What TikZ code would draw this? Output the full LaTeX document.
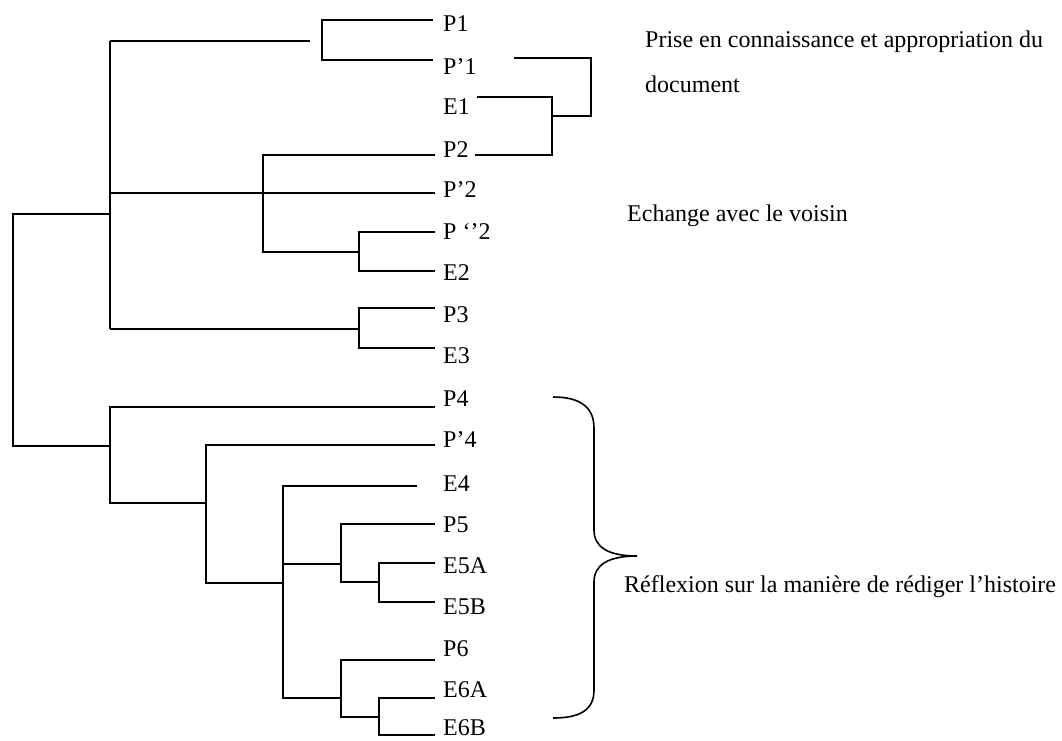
\documentclass[tikz,border=0pt]{standalone}
\usepackage{fontspec}
\setmainfont{Liberation Serif}
\begin{document}
\begin{tikzpicture}[x=1pt,y=-1pt]
\tikzset{
  branch/.style={draw=black, line width=1.6pt, line join=miter},
  leaf/.style={anchor=base west, inner sep=0pt, font=\fontsize{24}{29}\selectfont},
  note/.style={anchor=base west, inner sep=0pt, font=\fontsize{24}{29}\selectfont},
  bracepath/.style={draw=black, line width=1.6pt}
}
\useasboundingbox (0,0) rectangle (1062,740);

% leaf line ends
\coordinate (lP1) at (433,20);
\coordinate (lPp1) at (433,60);
\coordinate (lP2) at (435,155);
\coordinate (lPp2) at (435,193);
\coordinate (lPpp2) at (435,232);
\coordinate (lE2) at (435,271);
\coordinate (lP3) at (435,308);
\coordinate (lE3) at (435,348);
\coordinate (lP4) at (435,407);
\coordinate (lPp4) at (435,445);
\coordinate (lE4) at (417,486);
\coordinate (lP5) at (435,524);
\coordinate (lE5A) at (435,563);
\coordinate (lE5B) at (435,602);
\coordinate (lP6) at (435,660);
\coordinate (lE6A) at (435,698);
\coordinate (lE6B) at (435,735);

% internal junction coordinates
\coordinate (jA) at (322,40);    % P1 / P'1
\coordinate (jAl) at (110,41);
\coordinate (jAr) at (310,41);
\coordinate (jB) at (263,193);   % P2, P'2, (P''2,E2)
\coordinate (jC) at (359,252);   % P''2 / E2
\coordinate (jD) at (359,329);   % P3 / E3
\coordinate (jT) at (110,214);   % upper group
\coordinate (root) at (13,330);
\coordinate (jL) at (110,446);   % lower group
\coordinate (jM) at (206,503);   % P'4 ...
\coordinate (jN) at (283,583);   % E4 ...
\coordinate (jO) at (341,564);   % P5 ...
\coordinate (jP) at (379,582);   % E5A / E5B
\coordinate (jQ) at (341,698);   % P6 ...
\coordinate (jR) at (379,717);   % E6A / E6B

% leaf labels
\node[leaf] (P1) at (443,31) {P1};
\node[leaf] (Pp1) at (443,74) {P’1};
\node[leaf] (E1) at (443,114) {E1};
\node[leaf] (P2) at (443,157) {P2};
\node[leaf] (Pp2) at (443,197) {P’2};
\node[leaf] (Ppp2) at (443,239) {P ‘’2};
\node[leaf] (E2) at (443,280) {E2};
\node[leaf] (P3) at (443,322) {P3};
\node[leaf] (E3) at (443,363) {E3};
\node[leaf] (P4) at (443,406) {P4};
\node[leaf] (Pp4) at (443,447) {P’4};
\node[leaf] (E4) at (443,491) {E4};
\node[leaf] (P5) at (443,532) {P5};
\node[leaf] (E5A) at (443,573) {E5A};
\node[leaf] (E5B) at (443,614) {E5B};
\node[leaf] (P6) at (443,656) {P6};
\node[leaf] (E6A) at (443,697) {E6A};
\node[leaf] (E6B) at (443,735) {E6B};

% dendrogram
\draw[branch] (lP1) -| (jA) |- (lPp1);
\draw[branch] (jAl) -- (jAr);
\draw[branch] (lP2) -| (jB) -- (jB |- jC) -- (jC);
\draw[branch] (jT |- jB) -- (lPp2);
\draw[branch] (lPpp2) -| (jC) |- (lE2);
\draw[branch] (lP3) -| (jD) |- (lE3);
\draw[branch] (jD) -- (jD -| jT);
\draw[branch] (jAl) -- (jD -| jT);
\draw[branch] (jT) -- (jT -| root) -- (jL -| root) -- (jL);
\draw[branch] (lP4) -| (jL) |- (jM);
\draw[branch] (lPp4) -| (jM) |- (jN);
\draw[branch] (lE4) -| (jN) |- (jQ);
\draw[branch] (jN |- jO) -- (jO);
\draw[branch] (lP5) -| (jO) |- (jP);
\draw[branch] (lE5A) -| (jP) |- (lE5B);
\draw[branch] (lP6) -| (jQ) |- (jR);
\draw[branch] (lE6A) -| (jR) |- (lE6B);

% right-side links
\coordinate (rA) at (514,58);
\coordinate (rB) at (591,87);
\coordinate (rC) at (552,116);
\coordinate (rD) at (477,97);
\coordinate (rE) at (475,155);
\draw[branch] (rA) -| (rB) |- (rC);
\draw[branch] (rD) -| (rC) |- (rE);

% annotations
\node[note] (t1) at (645,47) {Prise en connaissance et appropriation du};
\node[note] (t1b) at (645,92) {document};
\node[note] (t2) at (627,221) {Echange avec le voisin};
\node[note] (t3) at (624,592) {Réflexion sur la manière de rédiger l’histoire};

% brace
\coordinate (bTop) at (553,397);
\coordinate (bTip) at (637,556);
\coordinate (bBot) at (553,718);
\draw[bracepath] (bTop) .. controls (580,397) and (594,407) .. (594,428)
  -- (594,530) .. controls (594,547) and (608,556) .. (bTip)
  .. controls (608,556) and (594,565) .. (594,582)
  -- (594,690) .. controls (594,710) and (580,718) .. (bBot);
\end{tikzpicture}
\end{document}
